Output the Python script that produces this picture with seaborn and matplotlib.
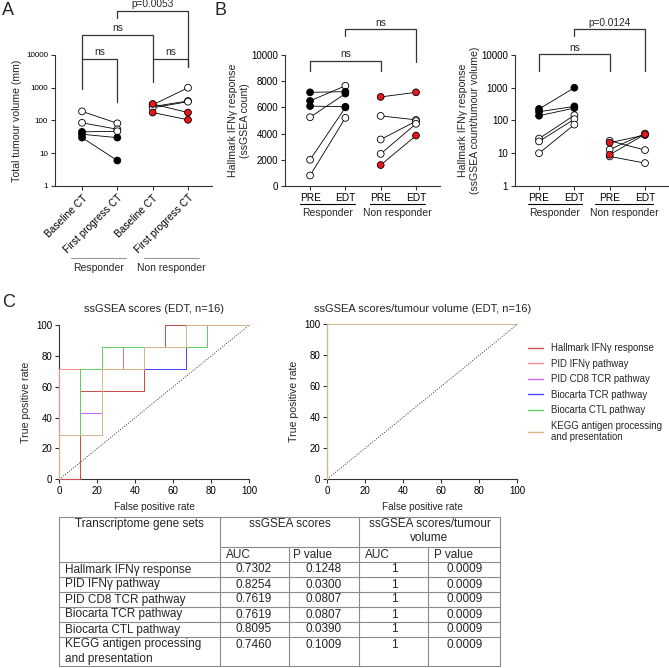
import numpy as np
import pandas as pd
import seaborn as sns
import matplotlib.pyplot as plt
from matplotlib.lines import Line2D
from matplotlib.ticker import NullLocator
from matplotlib.transforms import blended_transform_factory

W, H = 669, 668

# A: total tumour volume, paired baseline / first progression
a_ticks = ['Baseline CT', 'First progress CT', 'Baseline CT', 'First progress CT']
a_resp_base = [190, 85, 45, 38, 30]
a_resp_prog = [82, 54, 47, 30, 6]
a_resp_base_fill = ['open', 'open', 'black', 'black', 'black']
a_resp_prog_fill = ['open', 'open', 'open', 'black', 'black']
a_non_base = [300, 265, 245, 320, 175]
a_non_prog = [1000, 395, 375, 175, 105]
a_non_base_fill = ['open', 'open', 'open', 'red', 'red']
a_non_prog_fill = ['open', 'open', 'open', 'red', 'red']

# B left: Hallmark IFNg ssGSEA count
b_ticks = ['PRE', 'EDT', 'PRE', 'EDT']
b_resp_pre = [7150, 6500, 6100, 5250, 2000, 800]
b_resp_edt = [7200, 7650, 6050, 7050, 6000, 5200]
b_resp_pre_fill = ['black', 'black', 'black', 'open', 'open', 'open']
b_resp_edt_fill = ['black', 'open', 'black', 'black', 'black', 'open']
b_non_pre = [6800, 5350, 3550, 2450, 1600]
b_non_edt = [7150, 5050, 4950, 4750, 3850]
b_non_pre_fill = ['red', 'open', 'open', 'open', 'red']
b_non_edt_fill = ['red', 'open', 'open', 'open', 'red']

# B right: ssGSEA count / tumour volume
v_resp_pre = [225, 185, 140, 28, 23, 10]
v_resp_edt = [1000, 270, 240, 145, 110, 75]
v_resp_pre_fill = ['black', 'black', 'black', 'open', 'open', 'open']
v_resp_edt_fill = ['black', 'black', 'black', 'open', 'open', 'open']
v_non_pre = [24, 21, 13, 9, 8]
v_non_edt = [12.5, 36, 40, 38, 5]
v_non_pre_fill = ['open', 'red', 'open', 'red', 'open']
v_non_edt_fill = ['open', 'red', 'open', 'red', 'open']

# C: ROC curves, responders (of 7) scoring above each of the 9 non-responders
n_pos = 7
gene_sets = ['Hallmark IFNγ response', 'PID IFNγ pathway', 'PID CD8 TCR pathway',
             'Biocarta TCR pathway', 'Biocarta CTL pathway',
             'KEGG antigen processing\nand presentation']
set_colors = ['#cc4f4f', '#ff8c8c', '#cc66ff', '#4646ff', '#5fcf5f', '#d8b48c']
roc_edt = [[0, 4, 4, 4, 6, 7, 7, 7, 7],
           [5, 5, 5, 5, 6, 6, 7, 7, 7],
           [2, 3, 5, 6, 6, 6, 6, 7, 7],
           [2, 5, 5, 5, 5, 5, 7, 7, 7],
           [2, 5, 6, 6, 6, 6, 6, 7, 7],
           [2, 2, 5, 5, 6, 6, 7, 7, 7]]
roc_vol = [[7, 7, 7, 7, 7, 7, 7, 7, 7],
           [7, 7, 7, 7, 7, 7, 7, 7, 7],
           [7, 7, 7, 7, 7, 7, 7, 7, 7],
           [7, 7, 7, 7, 7, 7, 7, 7, 7],
           [7, 7, 7, 7, 7, 7, 7, 7, 7],
           [7, 7, 7, 7, 7, 7, 7, 7, 7]]

# table
auc_edt = ['0.7302', '0.8254', '0.7619', '0.7619', '0.8095', '0.7460']
p_edt = ['0.1248', '0.0300', '0.0807', '0.0807', '0.0390', '0.1009']
auc_vol = ['1', '1', '1', '1', '1', '1']
p_vol = ['0.0009', '0.0009', '0.0009', '0.0009', '0.0009', '0.0009']

sns.set_theme(style='ticks')
plt.rcParams['font.family'] = ['Liberation Sans', 'DejaVu Sans']
plt.rcParams['axes.linewidth'] = 0.8
plt.rcParams['axes.edgecolor'] = '#333333'

fill_pal = {'open': 'white', 'black': 'black', 'red': '#e8151b'}
fill_rank = {'open': 0, 'black': 1, 'red': 2}

fig = plt.figure(figsize=(W / 100, H / 100), dpi=100)


def fx(x):
    return x / W


def fy(y):
    return 1 - y / H


def paired_frame(pre, post, pre_fill, post_fill, first_pos, tag):
    n = len(pre)
    return pd.DataFrame({
        'subject': [f'{tag}{i}' for i in range(n)] * 2,
        'pos': [first_pos] * n + [first_pos + 1] * n,
        'value': list(pre) + list(post),
        'fill': list(pre_fill) + list(post_fill),
    })


def draw_paired(ax, frames):
    df = pd.concat(frames, ignore_index=True)
    sns.lineplot(data=df, x='pos', y='value', units='subject', estimator=None,
                 color='black', linewidth=0.6, ax=ax, legend=False, zorder=2)
    df = df.sort_values('fill', key=lambda s: s.map(fill_rank), kind='stable')
    sns.scatterplot(data=df, x='pos', y='value', hue='fill', palette=fill_pal,
                    edgecolor='black', linewidth=0.6, s=24, legend=False,
                    ax=ax, zorder=3, clip_on=False)


def style_axes(ax, ticks, xlim, ysize=7):
    sns.despine(ax=ax)
    ax.set_xlim(*xlim)
    ax.set_xticks(range(len(ticks)))
    ax.set_xticklabels(ticks, fontsize=7.3)
    ax.set_xlabel('')
    ax.tick_params(direction='out', length=3, width=0.8, colors='#333333',
                   labelcolor='black', pad=2)
    ax.tick_params(axis='y', labelsize=ysize)


def set_log(ax):
    ax.set_yscale('log')
    ax.set_ylim(1, 10000)
    ax.set_yticks([1, 10, 100, 1000, 10000])
    ax.set_yticklabels(['1', '10', '100', '1000', '10000'])
    ax.yaxis.set_minor_locator(NullLocator())


def bracket(ax, x1, x2, top, left_end, right_end, text):
    # heights in figure pixels -> axes fraction (all top axes span 55..186 px)
    tr = blended_transform_factory(ax.transData, ax.transAxes)
    f = lambda y: (186 - y) / 131
    ax.plot([x1, x1, x2, x2], [f(left_end), f(top), f(top), f(right_end)],
            transform=tr, color='#333333', lw=0.9, clip_on=False)
    ax.text((x1 + x2) / 2, f(top - 3.5), text, transform=tr,
            ha='center', va='baseline', fontsize=7.3)


def group_label(x1, x2, y_line, y_text, text, color):
    fig.add_artist(Line2D([fx(x1), fx(x2)], [fy(y_line)] * 2, color=color, lw=0.8))
    fig.text(fx((x1 + x2) / 2), fy(y_text), text, ha='center', va='center', fontsize=7.5)


# ---- A
axA = fig.add_axes([fx(55), fy(186), fx(157), 131 / H])
set_log(axA)
draw_paired(axA, [
    paired_frame(a_resp_base, a_resp_prog, a_resp_base_fill, a_resp_prog_fill, 0, 'r'),
    paired_frame(a_non_base, a_non_prog, a_non_base_fill, a_non_prog_fill, 2, 'n'),
])
style_axes(axA, a_ticks, (-0.765, 3.68), ysize=5.8)
plt.setp(axA.get_xticklabels(), rotation=45, ha='right', rotation_mode='anchor')
axA.set_ylabel('Total tumour volume (mm)', fontsize=7.6, labelpad=3)
bracket(axA, 0, 1, 59, 89, 102, 'ns')
bracket(axA, 2, 3, 59, 82, 67, 'ns')
bracket(axA, 0, 2, 35, 59, 59, 'ns')
bracket(axA, 1, 3, 11, 18, 67, 'p=0.0053')
group_label(71, 126, 258, 268, 'Responder', '#999999')
group_label(144, 199, 258, 268, 'Non responder', '#999999')

# ---- B left
axB = fig.add_axes([fx(285), fy(186), fx(155), 131 / H])
draw_paired(axB, [
    paired_frame(b_resp_pre, b_resp_edt, b_resp_pre_fill, b_resp_edt_fill, 0, 'r'),
    paired_frame(b_non_pre, b_non_edt, b_non_pre_fill, b_non_edt_fill, 2, 'n'),
])
axB.set_ylim(0, 10000)
axB.set_yticks(range(0, 10001, 2000))
style_axes(axB, b_ticks, (-0.71, 3.68))
axB.set_ylabel('Hallmark IFNγ response\n(ssGSEA count)', fontsize=7.6, labelpad=1)
bracket(axB, 0, 2, 60.7, 71, 71, 'ns')
bracket(axB, 1, 3, 29.3, 36, 62, 'ns')
group_label(300, 355, 204, 213, 'Responder', 'black')
group_label(370, 425, 204, 213, 'Non responder', 'black')

# ---- B right
axV = fig.add_axes([fx(515), fy(186), fx(153), 131 / H])
set_log(axV)
draw_paired(axV, [
    paired_frame(v_resp_pre, v_resp_edt, v_resp_pre_fill, v_resp_edt_fill, 0, 'r'),
    paired_frame(v_non_pre, v_non_edt, v_non_pre_fill, v_non_edt_fill, 2, 'n'),
])
style_axes(axV, b_ticks, (-0.68, 3.65))
axV.set_ylabel('Hallmark IFNγ response\n(ssGSEA count/tumour volume)', fontsize=7.6, labelpad=1)
bracket(axV, 0, 2, 54.3, 71, 71, 'ns')
bracket(axV, 1, 3, 29.3, 36, 71, 'p=0.0124')
group_label(528, 582, 204, 213, 'Responder', 'black')
group_label(595, 653, 204, 213, 'Non responder', 'black')


# ---- C ROC
def roc_frame(curves):
    parts = []
    for counts, name in zip(curves, gene_sets):
        xs, ys = [0], [0]
        for k, c in enumerate(counts):
            xs += [k, k + 1]
            ys += [c, c]
        parts.append(pd.DataFrame({'fpr': np.array(xs) * 100 / len(counts),
                                   'tpr': np.array(ys) * 100 / n_pos,
                                   'set': name}))
    return pd.concat(parts, ignore_index=True)


def draw_roc(ax, curves, title):
    ax.axline((0, 0), slope=1, color='#333333', lw=0.7, ls=(0, (1, 1.6)))
    sns.lineplot(data=roc_frame(curves), x='fpr', y='tpr', hue='set',
                 hue_order=gene_sets, palette=dict(zip(gene_sets, set_colors)),
                 sort=False, estimator=None, lw=0.72, legend=False, ax=ax,
                 clip_on=False, zorder=3, antialiased=False)
    sns.despine(ax=ax)
    for side in ('left', 'bottom'):
        ax.spines[side].set_zorder(0.5)
    ax.set_xlim(0, 100)
    ax.set_ylim(0, 100)
    ax.set_xticks(range(0, 101, 20))
    ax.set_yticks(range(0, 101, 20))
    ax.tick_params(direction='out', length=3, width=0.8, colors='#333333',
                   labelcolor='black', labelsize=7, pad=2)
    ax.set_xlabel('False positive rate', fontsize=7.2)
    ax.set_ylabel('True positive rate', fontsize=7.6)
    ax.set_title(title, fontsize=8, pad=9)


axR1 = fig.add_axes([fx(59.3), fy(479.3), fx(190), 154.3 / H])
draw_roc(axR1, roc_edt, 'ssGSEA scores (EDT, n=16)')
axR2 = fig.add_axes([fx(327.3), fy(479), fx(190), 154.7 / H])
draw_roc(axR2, roc_vol, 'ssGSEA scores/tumour volume (EDT, n=16)')

fig.legend(handles=[Line2D([], [], color=c, lw=1.0) for c in set_colors],
           labels=gene_sets, loc='upper left', bbox_to_anchor=(fx(528), fy(343)),
           frameon=False, fontsize=6.9, handlelength=1.6, handletextpad=0.8,
           labelspacing=0.58, borderaxespad=0, borderpad=0)

# ---- table
cx = [59, 220, 289, 359, 428, 500]
row_tops = [562, 577, 592, 607, 622, 637]
t_top, t_mid, t_bot = 517, 547, 666
tc = '#8a8a8a'


def hline(x1, x2, y):
    fig.add_artist(Line2D([fx(x1), fx(x2)], [fy(y)] * 2, color=tc, lw=0.8))


def vline(x, y1, y2):
    fig.add_artist(Line2D([fx(x)] * 2, [fy(y1), fy(y2)], color=tc, lw=0.8))


hline(cx[0], cx[5], t_top)
hline(cx[1], cx[5], t_mid)
for y in row_tops + [t_bot]:
    hline(cx[0], cx[5], y)
for i, x in enumerate(cx):
    vline(x, t_mid if i in (2, 4) else t_top, t_bot)

ts = 8.5
fig.text(fx((cx[0] + cx[1]) / 2), fy(524), 'Transcriptome gene sets', ha='center', va='center', fontsize=ts)
fig.text(fx((cx[1] + cx[3]) / 2), fy(524), 'ssGSEA scores', ha='center', va='center', fontsize=ts)
fig.text(fx((cx[3] + cx[5]) / 2), fy(531), 'ssGSEA scores/tumour\nvolume', ha='center', va='center', fontsize=ts)
for x, lab in zip([226, 293, 365, 434], ['AUC', 'P value', 'AUC', 'P value']):
    fig.text(fx(x), fy(554.5), lab, ha='left', va='center', fontsize=ts)
for i, top in enumerate(row_tops):
    if '\n' in gene_sets[i]:
        fig.text(fx(65), fy(top + 1.5), gene_sets[i], ha='left', va='top', fontsize=ts, linespacing=1.25)
    else:
        fig.text(fx(65), fy(top + 7.5), gene_sets[i], ha='left', va='center', fontsize=ts)
    for x, val in zip([254, 324, 394, 465], [auc_edt[i], p_edt[i], auc_vol[i], p_vol[i]]):
        fig.text(fx(x), fy(top + 7.5), val, ha='center', va='center', fontsize=ts)

# panel letters
fig.text(fx(2), fy(2), 'A', fontsize=13, va='top', ha='left')
fig.text(fx(214), fy(2), 'B', fontsize=13, va='top', ha='left')
fig.text(fx(2), fy(294), 'C', fontsize=13, va='top', ha='left')

fig.savefig('out.png', dpi=100)
